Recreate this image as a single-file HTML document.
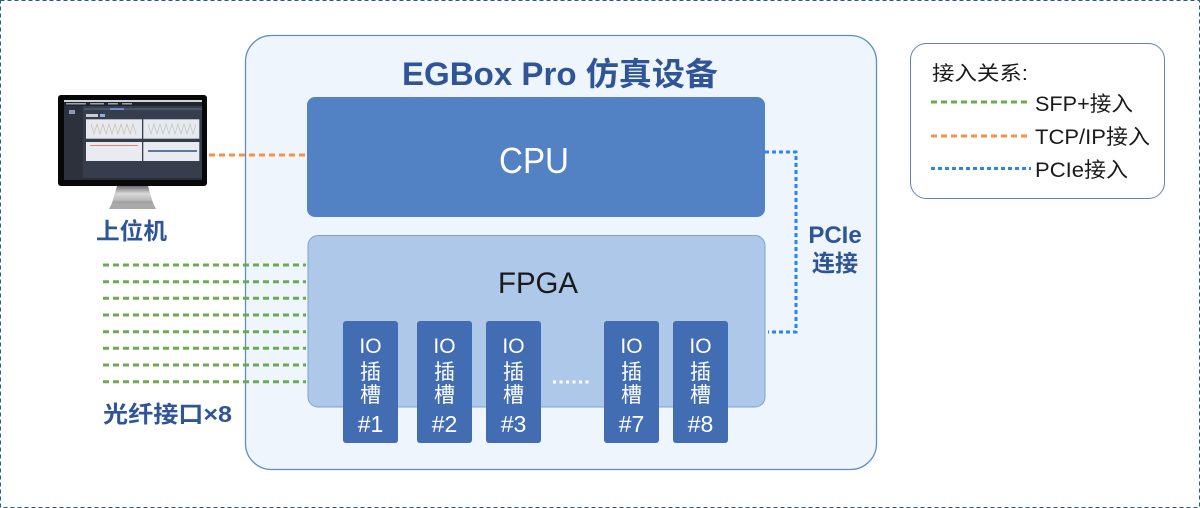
<!DOCTYPE html>
<html><head><meta charset="utf-8">
<style>
html,body{margin:0;padding:0;background:#fff;}
svg{display:block;}
text{font-family:"Liberation Sans","Noto Sans CJK SC",sans-serif;}
</style></head>
<body>
<svg width="1200" height="508" viewBox="0 0 1200 508" xmlns="http://www.w3.org/2000/svg">
<defs>
<linearGradient id="stand" x1="0" y1="0" x2="0" y2="1">
<stop offset="0" stop-color="#6e6e6e"/>
<stop offset="0.45" stop-color="#d9d9d9"/>
<stop offset="0.8" stop-color="#bdbdbd"/>
<stop offset="1" stop-color="#9a9a9a"/>
</linearGradient>
</defs>
<rect x="0.5" y="0.5" width="1199" height="507" fill="#fff" stroke="#1f5d9c" stroke-width="1" stroke-dasharray="4 3"/>

<!-- main box -->
<rect x="245.5" y="35.5" width="631" height="434" rx="26" fill="#eef5fc" stroke="#5f8cc6" stroke-width="1.3"/>
<text x="560" y="85" font-size="32" font-weight="bold" fill="#2f5597" text-anchor="middle" textLength="316" lengthAdjust="spacingAndGlyphs">EGBox Pro 仿真设备</text>

<!-- CPU -->
<rect x="307" y="97" width="458" height="120" rx="8" fill="#5282c3"/>
<text x="534" y="173" font-size="36" fill="#fff" text-anchor="middle" textLength="70" lengthAdjust="spacingAndGlyphs">CPU</text>

<!-- FPGA -->
<rect x="308" y="235.5" width="457" height="171.5" rx="10" fill="#adc8e8" stroke="#7ea2d1" stroke-width="1"/>
<text x="538" y="293" font-size="30" fill="#1a1a1a" text-anchor="middle" textLength="80" lengthAdjust="spacingAndGlyphs">FPGA</text>

<!-- IO slots -->
<g fill="#426db3">
<rect x="343" y="321" width="55" height="122" rx="3"/>
<rect x="417" y="321" width="55" height="122" rx="3"/>
<rect x="486" y="321" width="55" height="122" rx="3"/>
<rect x="604" y="321" width="55" height="122" rx="3"/>
<rect x="673" y="321" width="55" height="122" rx="3"/>
</g>
<g fill="#fff" font-size="21" text-anchor="middle">
<text x="370.5" y="353">IO</text><text x="370.5" y="379">插</text><text x="370.5" y="402">槽</text><text x="370.5" y="432" font-size="23">#1</text>
<text x="444.5" y="353">IO</text><text x="444.5" y="379">插</text><text x="444.5" y="402">槽</text><text x="444.5" y="432" font-size="23">#2</text>
<text x="513.5" y="353">IO</text><text x="513.5" y="379">插</text><text x="513.5" y="402">槽</text><text x="513.5" y="432" font-size="23">#3</text>
<text x="631.5" y="353">IO</text><text x="631.5" y="379">插</text><text x="631.5" y="402">槽</text><text x="631.5" y="432" font-size="23">#7</text>
<text x="700.5" y="353">IO</text><text x="700.5" y="379">插</text><text x="700.5" y="402">槽</text><text x="700.5" y="432" font-size="23">#8</text>
</g>
<g fill="#fff">
<rect x="553" y="380.5" width="3" height="3"/><rect x="559.5" y="380.5" width="3" height="3"/><rect x="566" y="380.5" width="3" height="3"/><rect x="572.5" y="380.5" width="3" height="3"/><rect x="579" y="380.5" width="3" height="3"/><rect x="585.5" y="380.5" width="3" height="3"/>
</g>

<!-- PCIe connection -->
<path d="M765 152 H796 V332 H768" fill="none" stroke="#2a84f5" stroke-width="3" stroke-dasharray="4 3"/>
<text x="835" y="243" font-size="24" font-weight="bold" fill="#2f5597" text-anchor="middle">PCIe</text>
<text x="835" y="271" font-size="23" font-weight="bold" fill="#2f5597" text-anchor="middle">连接</text>

<!-- TCP/IP -->
<line x1="209" y1="155" x2="307" y2="155" stroke="#f79244" stroke-width="3" stroke-dasharray="6 4"/>

<!-- SFP+ lines -->
<g stroke="#6aab4e" stroke-width="3" stroke-dasharray="6 4">
<line x1="103" y1="265" x2="306" y2="265"/>
<line x1="103" y1="281.7" x2="306" y2="281.7"/>
<line x1="103" y1="298.3" x2="306" y2="298.3"/>
<line x1="103" y1="315" x2="306" y2="315"/>
<line x1="103" y1="331.7" x2="306" y2="331.7"/>
<line x1="103" y1="348.3" x2="306" y2="348.3"/>
<line x1="103" y1="365" x2="306" y2="365"/>
<line x1="103" y1="381.7" x2="306" y2="381.7"/>
</g>
<text x="103" y="422" font-size="23" font-weight="bold" fill="#2f5597" textLength="129" lengthAdjust="spacingAndGlyphs">光纤接口×8</text>

<!-- monitor -->
<polygon points="117,186 148,186 153,203 112,203" fill="url(#stand)"/>
<polygon points="112,203 153,203 156,209 109,209" fill="#a9a9a9"/>
<rect x="58" y="95" width="149" height="91" rx="3" fill="#080808"/>
<rect x="64" y="100" width="138" height="80" fill="#363d4c"/>
<rect x="64" y="100" width="138" height="2" fill="#cfd3d9"/>
<rect x="64" y="102" width="138" height="4" fill="#20242b"/>
<g fill="#9aa3b0"><rect x="66" y="103" width="20" height="1.5"/><rect x="90" y="103" width="14" height="1.5"/><rect x="108" y="103" width="10" height="1.5"/><rect x="122" y="103" width="10" height="1.5"/></g>
<rect x="64" y="106" width="19" height="74" fill="#2c313c"/>
<rect x="69" y="110" width="6" height="4" fill="#8a9bb5"/>
<rect x="84" y="108" width="118" height="2" fill="#4a5468"/>
<rect x="110" y="108" width="14" height="2" fill="#6c8fc4"/>
<rect x="86" y="114" width="12" height="3" fill="#c9cfd8"/>
<rect x="100" y="114" width="5" height="3" fill="#8fb0dc"/>
<rect x="86" y="119.3" width="56" height="19.4" fill="#e6eaf0"/>
<rect x="143.3" y="119.3" width="56" height="19.4" fill="#e6eaf0"/>
<rect x="86" y="142" width="56" height="19" fill="#e8ebf0"/>
<rect x="143.3" y="142" width="56" height="19" fill="#e8ebf0"/>
<path d="M91 124 l3 10 l3 -10 l3 10 l3 -10 l3 10 l3 -10 l3 10 l3 -10 l3 10 l3 -10 l3 10 l3 -10 l3 10 l3 -10 l3 10" fill="none" stroke="#c8b59a" stroke-width="0.6"/>
<path d="M148 124 l3 10 l3 -10 l3 10 l3 -10 l3 10 l3 -10 l3 10 l3 -10 l3 10 l3 -10 l3 10 l3 -10 l3 10 l3 -10 l3 10 l3 -10" fill="none" stroke="#b8c4b0" stroke-width="0.6"/>
<line x1="90" y1="145.5" x2="138" y2="145.5" stroke="#e0603a" stroke-width="0.8"/>
<line x1="148" y1="151" x2="197" y2="151" stroke="#2e4f86" stroke-width="1.4"/>
<rect x="64" y="178" width="138" height="2" fill="#2a2f39"/>

<text x="131.5" y="239" font-size="23" font-weight="bold" fill="#2f5597" text-anchor="middle" textLength="71" lengthAdjust="spacingAndGlyphs">上位机</text>

<!-- legend -->
<rect x="910.5" y="43.5" width="254" height="155" rx="16" fill="#fff" stroke="#5f83b8" stroke-width="1"/>
<text x="932" y="80" font-size="20" fill="#1a1a1a" textLength="96" lengthAdjust="spacingAndGlyphs">接入关系:</text>
<line x1="931" y1="102" x2="1030" y2="102" stroke="#6aab4e" stroke-width="3" stroke-dasharray="6 4"/>
<text x="1035" y="111" font-size="21" fill="#1a1a1a" textLength="98" lengthAdjust="spacingAndGlyphs">SFP+接入</text>
<line x1="931" y1="136" x2="1030" y2="136" stroke="#f79244" stroke-width="3" stroke-dasharray="6 4"/>
<text x="1035" y="144" font-size="21" fill="#1a1a1a" textLength="115" lengthAdjust="spacingAndGlyphs">TCP/IP接入</text>
<line x1="931" y1="168.5" x2="1031" y2="168.5" stroke="#2a84f5" stroke-width="3" stroke-dasharray="4 3"/>
<text x="1035" y="177" font-size="21" fill="#1a1a1a" textLength="93" lengthAdjust="spacingAndGlyphs">PCIe接入</text>
</svg>
</body></html>
